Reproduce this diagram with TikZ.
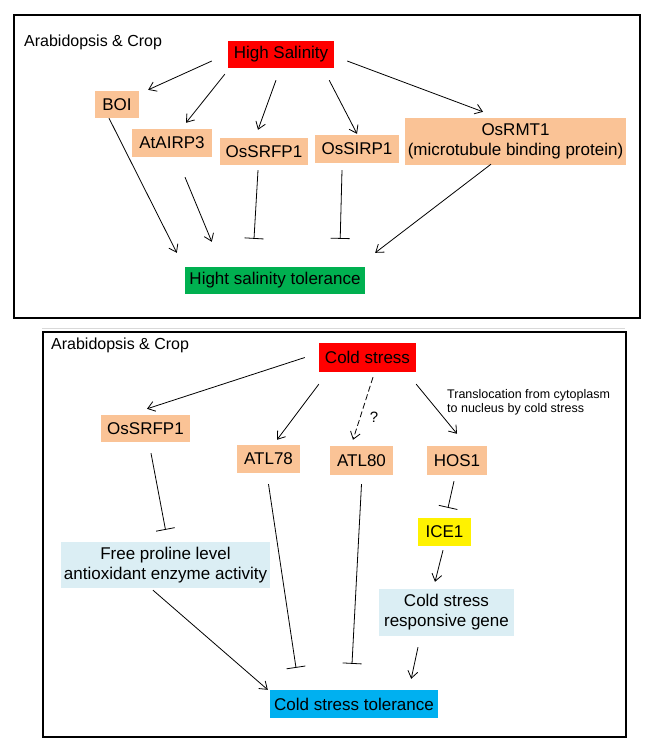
\documentclass[tikz,border=0pt]{standalone}
\usepackage{fontspec}
\setmainfont{Liberation Sans}
\usetikzlibrary{arrows.meta}
\definecolor{peach}{RGB}{250,195,150}
\definecolor{paleblue}{RGB}{219,238,244}
\definecolor{skyblue}{RGB}{0,176,240}
\definecolor{leafgreen}{RGB}{0,176,80}

\begin{document}
\begin{tikzpicture}[x=1pt, y=-1pt,
  box/.style={inner sep=0pt, minimum height=27pt, align=center, font=\fontsize{17}{20}\selectfont},
  gene/.style={box, fill=peach},
  act/.style={-{Straight Barb[length=7pt,width=10pt]}, line width=0.8pt},
  inh/.style={-{Bar[width=19pt]}, line width=0.8pt},
  frame/.style={line width=2.2pt},
  tag/.style={font=\fontsize{16}{18}\selectfont, anchor=west, inner sep=0pt}]
  \useasboundingbox (0,0) rectangle (650,752);
  \draw[frame] (14,15) rectangle (640,318);
  \draw[black!15, line width=0.8pt] (42,328) -- (625,328);
  \draw[frame] (43,332) rectangle (626,737);

  \node[tag] (sallabel) at (24,42) {Arabidopsis \& Crop};
  \node[box, fill=red, minimum width=106pt]    (hs)     at (281,54.5)  {High Salinity};
  \node[gene, minimum width=44pt]              (boi)    at (117,104.5) {BOI};
  \node[gene, minimum width=80pt, minimum height=28pt] (atairp) at (172,143) {AtAIRP3};
  \node[gene, minimum width=88pt]              (ossrfp) at (264,151.5) {OsSRFP1};
  \node[gene, minimum width=84pt, minimum height=28pt] (ossirp) at (357,149) {OsSIRP1};
  \node[gene, minimum width=221pt, minimum height=47pt] (osrmt) at (515.5,141.5) {OsRMT1\\(microtubule binding protein)};
  \node[box, fill=leafgreen, minimum width=180pt] (hst) at (275,280.5) {Hight salinity tolerance};

  \draw[act] ([xshift=-16pt,yshift=-6.5pt]hs.west) -- ([xshift=9pt,yshift=1pt]boi.north east);
  \draw[act] ([xshift=-3pt,yshift=-6pt]hs.south west) -- ([xshift=14pt,yshift=6pt]atairp.north);
  \draw[act] ([xshift=-5pt,yshift=-12pt]hs.south) -- ([xshift=-6pt,yshift=8pt]ossrfp.north);
  \draw[act] ([xshift=-5pt,yshift=-12pt]hs.south east) -- ([yshift=1pt]ossirp.north);
  \draw[act] ([xshift=13pt,yshift=-6.5pt]hs.east) -- ([xshift=-32.5pt,yshift=6pt]osrmt.north);
  \draw[act] ([xshift=-8pt]boi.south) -- ([xshift=-8pt,yshift=14pt]hst.north west);
  \draw[act] ([xshift=13pt,yshift=-20pt]atairp.south) -- ([xshift=27pt,yshift=25pt]hst.north west);
  \draw[inh] ([xshift=-6pt,yshift=-5pt]ossrfp.south) -- ([xshift=-21pt,yshift=28pt]hst.north);
  \draw[inh] ([xshift=-15pt,yshift=-7pt]ossirp.south) -- ([xshift=-25pt,yshift=28pt]hst.north east);
  \draw[act] ([xshift=-24.5pt,yshift=1pt]osrmt.south) -- ([xshift=10pt,yshift=14pt]hst.north east);

  \node[tag] (coldlabel) at (51,345) {Arabidopsis \& Crop};
  \node[box, fill=red, minimum width=97pt, minimum height=29pt] (cs) at (367.5,357.5) {Cold stress};
  \node[gene, minimum width=89pt]  (ossrfpb) at (145.5,428.5) {OsSRFP1};
  \node[gene, minimum width=63pt, minimum height=28pt] (atl78) at (268.5,459) {ATL78};
  \node[gene, minimum width=63pt, minimum height=29pt] (atl80) at (361.5,460.5) {ATL80};
  \node[gene, minimum width=60pt, minimum height=29pt] (hos) at (457,460.5) {HOS1};
  \node[box, fill=yellow, minimum width=53pt, minimum height=28pt] (ice) at (444.5,532) {ICE1};
  \node[box, fill=paleblue, minimum width=209pt, minimum height=46pt] (fp) at (165.5,565) {Free proline level\\antioxidant enzyme activity};
  \node[box, fill=paleblue, minimum width=135pt, minimum height=47pt] (csrg) at (446.5,612.5) {Cold stress\\responsive gene};
  \node[box, fill=skyblue, minimum width=168pt, minimum height=28pt] (cst) at (354,704) {Cold stress tolerance};
  \node[tag, align=left, font=\fontsize{12.5}{14}\selectfont] (trans) at (447,402.5) {Translocation from cytoplasm\\to nucleus by cold stress};
  \node[inner sep=0pt, font=\fontsize{15}{17}\selectfont] (q) at (374,417) {?};

  \draw[act] ([xshift=-14pt]cs.west) -- ([xshift=1.5pt,yshift=6pt]ossrfpb.north);
  \draw[act] ([yshift=-12pt]cs.south west) -- ([xshift=8.5pt,yshift=5pt]atl78.north);
  \draw[act, dash pattern=on 6pt off 3pt] ([xshift=5.5pt,yshift=-5pt]cs.south) -- ([xshift=-8.5pt,yshift=6pt]atl80.north);
  \draw[act] ([yshift=-12pt]cs.south east) -- ([yshift=12pt]hos.north);
  \draw[inh] ([xshift=5.5pt,yshift=-11pt]ossrfpb.south) -- ([yshift=12pt]fp.north);
  \draw[inh] ([yshift=-11pt]atl78.south) -- ([xshift=-58pt,yshift=22pt]cst.north);
  \draw[inh] ([yshift=-9pt]atl80.south) -- ([xshift=-2pt,yshift=26pt]cst.north);
  \draw[inh] ([xshift=-3pt,yshift=-6pt]hos.south) -- ([xshift=3.5pt,yshift=10pt]ice.north);
  \draw[act] ([xshift=-1.5pt,yshift=-4pt]ice.south) -- ([xshift=-11.5pt,yshift=7pt]csrg.north);
  \draw[act] ([xshift=-12.5pt,yshift=-2pt]fp.south) -- ([xshift=-2pt]cst.north west);
  \draw[act] ([xshift=-28.5pt,yshift=-11pt]csrg.south) -- ([xshift=-27pt,yshift=11pt]cst.north east);
\end{tikzpicture}
\end{document}
